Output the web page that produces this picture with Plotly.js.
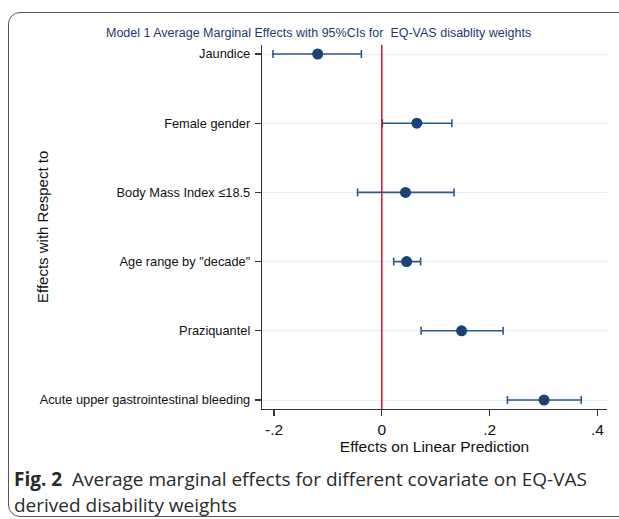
<!DOCTYPE html>
<html>
<head>
<meta charset="utf-8">
<script src="https://cdn.plot.ly/plotly-3.0.1.min.js"></script>
<style>
html,body{margin:0;padding:0;width:619px;height:519px;overflow:hidden;background:#fff;}
#frame{position:absolute;left:8px;top:12px;width:640px;height:505px;border:1.3px solid #555;border-radius:12px;box-sizing:border-box;}
#chart{position:absolute;left:0;top:0;width:619px;height:519px;}
</style>
</head>
<body>
<div id="frame"></div>
<div id="chart"></div>
<script>
const categories = ["Jaundice", "Female gender", "Body Mass Index \u226418.5", "Age range by \"decade\"", "Praziquantel", "Acute upper gastrointestinal bleeding"];
const effects = [-0.119, 0.065, 0.044, 0.046, 0.148, 0.301];
const ciLower = [-0.202, 0.001, -0.045, 0.022, 0.073, 0.233];
const ciUpper = [-0.038, 0.130, 0.134, 0.072, 0.225, 0.370];
const xTickVals = [-0.2, 0, 0.2, 0.4];
const xTickText = ["-.2", "0", ".2", ".4"];

const L = 262, R = 607, T = 45, B = 409;
const W = 619, H = 519;
function px(x){ return (x - L) / (R - L); }
function py(y){ return (B - y) / (B - T); }

const trace = {
  type: "scatter",
  mode: "markers",
  x: effects,
  y: categories,
  marker: {color: "#1a4371", size: 11},
  error_x: {
    type: "data", symmetric: false,
    array: effects.map((v, i) => ciUpper[i] - v),
    arrayminus: effects.map((v, i) => v - ciLower[i]),
    color: "#2e5986", thickness: 1.6, width: 4
  },
  hoverinfo: "skip"
};

const layout = {
  width: W, height: H,
  margin: {l: L, r: W - R, t: T, b: H - B},
  paper_bgcolor: "rgba(0,0,0,0)",
  plot_bgcolor: "rgba(0,0,0,0)",
  showlegend: false,
  font: {family: "Liberation Sans, Arial, sans-serif", color: "#111"},
  xaxis: {
    range: [-0.2223, 0.4178],
    tickvals: xTickVals, ticktext: xTickText,
    ticks: "outside", ticklen: 6, tickcolor: "#333", tickwidth: 1.2,
    showline: true, linecolor: "#333", linewidth: 1.2,
    showgrid: false, zeroline: false,
    tickfont: {size: 15.5, color: "#111"},
    title: {text: "Effects on Linear Prediction", font: {size: 15.5, color: "#111"}, standoff: 2}
  },
  yaxis: {
    type: "category",
    categoryorder: "array", categoryarray: categories,
    range: [5.13, -0.13],
    ticks: "outside", ticklen: 6, tickcolor: "#333", tickwidth: 1.2,
    showline: true, linecolor: "#333", linewidth: 1.2,
    showgrid: true, gridcolor: "#e6eef1", gridwidth: 1,
    zeroline: false,
    tickfont: {size: 12.8, color: "#111"},
    ticklabelstandoff: 2
  },
  shapes: [
    {type: "line", xref: "x", yref: "paper", x0: 0, x1: 0, y0: 0, y1: 1,
     line: {color: "#d0103a", width: 1.5}}
  ],
  annotations: [
    {text: "Model 1 Average Marginal Effects with 95%CIs for  EQ-VAS disablity weights",
     xref: "paper", yref: "paper", x: px(318), y: py(33), xanchor: "center", yanchor: "middle",
     showarrow: false, font: {size: 12.5, color: "#1f3a6e"}},
    {text: "Effects with Respect to",
     xref: "paper", yref: "paper", x: px(42), y: py(227), xanchor: "center", yanchor: "middle",
     textangle: -90, showarrow: false, font: {size: 15, color: "#111"}},
    {text: "<b>Fig. 2</b>  Average marginal effects for different covariate on EQ-VAS",
     xref: "paper", yref: "paper", x: px(12), y: py(479), xanchor: "left", yanchor: "middle",
     showarrow: false, font: {family: "Open Sans, Noto Sans, sans-serif", size: 19, color: "#2a2a2a"}},
    {text: "derived disability weights",
     xref: "paper", yref: "paper", x: px(12), y: py(505), xanchor: "left", yanchor: "middle",
     showarrow: false, font: {family: "Open Sans, Noto Sans, sans-serif", size: 19, color: "#2a2a2a"}}
  ]
};

Plotly.newPlot("chart", [trace], layout, {displayModeBar: false, staticPlot: true});
</script>
</body>
</html>
